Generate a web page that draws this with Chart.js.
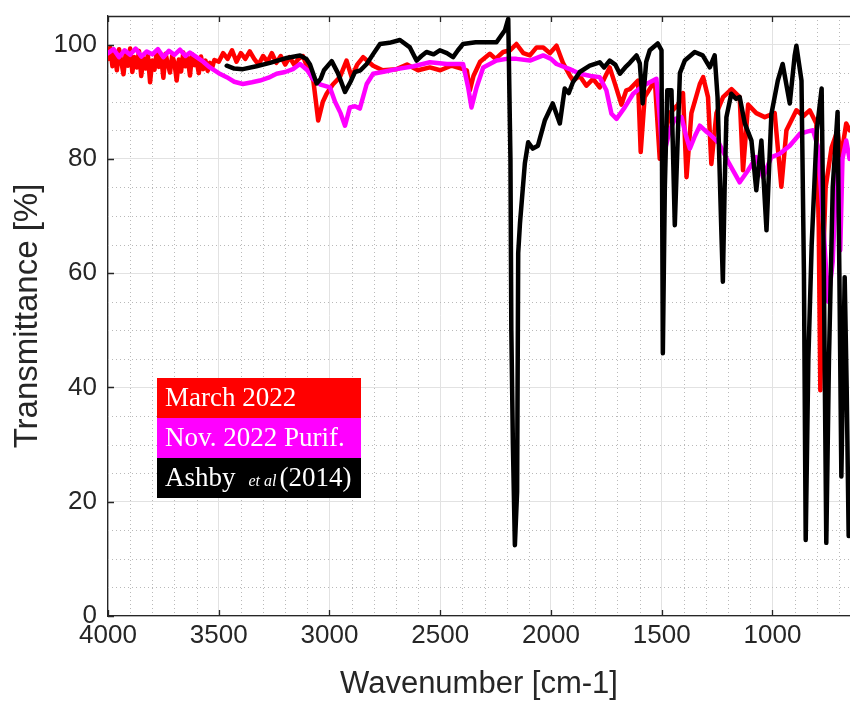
<!DOCTYPE html>
<html>
<head>
<meta charset="utf-8">
<script src="https://cdn.jsdelivr.net/npm/chart.js@4.4.1/dist/chart.umd.min.js"></script>
<style>
  html, body { margin: 0; padding: 0; background: #fff; }
</style>
</head>
<body>
<canvas id="irChart" width="850" height="702"></canvas>
<script>
// Series data (wavenumber in cm-1, transmittance in %)
const seriesLabels = ['March 2022', 'Nov. 2022 Purif.', 'Ashby et al (2014)'];
const seriesColors = ['#ff0000', '#ff00ff', '#000000'];

const redWn = [4000, 3990, 3980, 3970, 3960, 3950, 3940, 3930, 3920, 3910, 3900, 3890, 3880, 3870, 3860, 3850, 3840, 3830, 3820, 3810,
  3800, 3790, 3780, 3770, 3760, 3750, 3740, 3730, 3720, 3710, 3700, 3690, 3680, 3670, 3660, 3650, 3640, 3630, 3620, 3610,
  3600, 3590, 3580, 3570, 3560, 3550, 3540, 3530, 3520, 3500, 3480, 3460, 3440, 3420, 3400, 3380,
  3360, 3340, 3320, 3300, 3280, 3260, 3240, 3220, 3200, 3180, 3160, 3140, 3120, 3100, 3073, 3051, 3030, 3013, 2985, 2953,
  2923, 2900, 2875, 2848, 2803, 2760, 2697, 2650, 2600, 2547, 2500, 2450, 2397, 2380, 2366, 2350, 2320, 2276, 2250, 2216,
  2185, 2156, 2125, 2095, 2065, 2035, 2005, 1975, 1945, 1915, 1900, 1870, 1840, 1810, 1780, 1760, 1735, 1710, 1682, 1660,
  1644, 1607, 1595, 1577, 1550, 1531, 1509, 1486, 1464, 1426, 1404, 1388, 1366, 1328, 1313, 1291, 1276, 1253, 1223, 1185,
  1148, 1133, 1110, 1073, 1035, 990, 960, 937, 892, 860, 832, 802, 791, 784, 773, 760, 733, 706, 692, 667, 652];
const redT = [97.5, 99.5, 96.2, 98.8, 95.5, 99.2, 97, 94.8, 98.5, 96.3, 99.3, 95.2, 97.8, 96, 98.9, 94.5, 97.6, 95.8, 98.2, 93.4,
  97.2, 95.6, 98.7, 96.1, 97.9, 94.2, 98.4, 96.6, 95.1, 98.1, 96.8, 93.7, 97.4, 95.3, 98.6, 96.2, 97.7, 94.6, 98.3, 96.4,
  97.1, 95, 97.9, 95.7, 97.2, 95.4, 96.8, 95.9, 97.3, 97, 98.5, 97.5, 99, 97, 98.5, 97.5,
  98.8, 97.5, 96.5, 98, 97, 98.5, 96.8, 98, 96.5, 97.8, 96.5, 97.5, 98, 96, 93.7, 86.7, 90, 91.4, 93, 94.3,
  97.2, 94.3, 96.5, 97.8, 96.3, 95.5, 95.7, 96.5, 95.5, 96, 95.5, 96.3, 95.7, 95.5, 92, 94.5, 97, 98.4, 97.5, 98.7,
  99, 100.1, 98.5, 98.1, 99.5, 99.5, 98.5, 99.8, 96.7, 94.6, 93.7, 94.5, 92.8, 94, 92.5, 94, 96, 93, 89.5, 92,
  92.2, 93.7, 81.2, 90.8, 92.5, 93.7, 80, 84, 88, 89.5, 91.5, 76.8, 88, 93.1, 94.3, 90.8, 79.1, 88, 90.8, 92.2,
  90.8, 78, 89.5, 88, 87.3, 88, 75.1, 85, 88.5, 87.5, 88.5, 86.2, 68, 39.5, 60, 75, 82, 85, 80, 86.2, 85];

const magentaWn = [4000, 3975, 3950, 3925, 3900, 3875, 3850, 3825, 3800, 3775, 3750, 3725, 3700, 3675, 3650, 3630, 3600, 3570, 3540, 3500,
  3464, 3430, 3391, 3350, 3314, 3275, 3239, 3200, 3165, 3133, 3100, 3075, 3040, 2998, 2975, 2950, 2930, 2908, 2885, 2863,
  2832, 2803, 2750, 2697, 2620, 2547, 2470, 2397, 2374, 2359, 2336, 2306, 2246, 2200, 2156, 2095, 2035, 2000, 1975, 1915,
  1870, 1820, 1780, 1750, 1727, 1704, 1667, 1629, 1600, 1569, 1524, 1509, 1495, 1464, 1440, 1411, 1390, 1373, 1350, 1328,
  1300, 1286, 1241, 1196, 1148, 1110, 1073, 1043, 1005, 967, 922, 876, 840, 817, 794, 773, 749, 728, 711, 700,
  694, 684, 667, 652];
const magentaT = [98.5, 99.2, 97.8, 99, 98.2, 99.3, 97.9, 98.8, 98.3, 99.2, 97.8, 98.9, 98.2, 99.1, 98, 98.6, 97.8, 97, 96, 95,
  94.3, 93.5, 93.1, 93.4, 93.7, 94.2, 94.9, 95.2, 95.7, 96.6, 95.5, 94, 93, 92.5, 90, 88, 85.8, 89, 89.2, 88.8,
  93.1, 94.9, 95.3, 95.7, 96.2, 96.9, 96.6, 96.6, 92.5, 89, 92.5, 96, 97.2, 97.5, 97.5, 97.2, 98.1, 97.5, 96.6, 95.7,
  94.9, 94.5, 94.3, 92, 87.9, 87, 89, 91.4, 92.3, 93.1, 94, 87.3, 80, 85, 87, 87.3, 84, 81.8, 84, 85.8,
  84.8, 84.4, 82.7, 79.2, 75.9, 78, 80.3, 76.8, 80.3, 80.9, 82.3, 84.4, 84.8, 85, 82, 70, 55, 62, 78, 80,
  64, 80, 83.2, 80];

const blackWn = [3464, 3430, 3391, 3330, 3269, 3200, 3133, 3105, 3088, 3058, 3040, 3025, 2990, 2962, 2930, 2905, 2885, 2860, 2832, 2800,
  2772, 2730, 2682, 2637, 2607, 2585, 2562, 2530, 2502, 2470, 2442, 2420, 2397, 2340, 2291, 2246, 2208, 2193, 2183, 2179,
  2172, 2163, 2153, 2148, 2140, 2118, 2103, 2082, 2059, 2028, 1992, 1960, 1938, 1920, 1901, 1870, 1825, 1780, 1760, 1735,
  1710, 1689, 1665, 1644, 1614, 1599, 1586, 1570, 1554, 1518, 1501, 1495, 1486, 1475, 1456, 1441, 1418, 1396, 1351, 1315,
  1283, 1261, 1248, 1231, 1224, 1216, 1208, 1186, 1165, 1148, 1125, 1095, 1073, 1050, 1027, 1005, 976, 954, 922, 900,
  892, 869, 858, 850, 838, 823, 800, 778, 768, 757, 745, 728, 706, 698, 689, 674, 665, 656];
const blackT = [96.3, 95.8, 95.7, 96.2, 96.8, 97.6, 98.1, 97.5, 96.5, 93.2, 94, 95.5, 97.1, 95, 91.7, 93.5, 95.2, 95.5, 96.6, 98.5,
  100.1, 100.3, 100.8, 99.5, 97.2, 98, 98.7, 98.3, 99, 98.5, 97.8, 99, 100.1, 100.4, 100.4, 100.4, 102.5, 104.5, 80, 50,
  30, 12.4, 21.7, 63.5, 68.7, 79.2, 82.9, 81.8, 82.3, 86.7, 89.7, 86.2, 92.3, 91.5, 93.4, 95.2, 96.3, 96.9, 96, 97.2,
  96.5, 94.9, 96, 96.8, 98.1, 96.7, 89.7, 97, 99, 100.2, 99, 46, 75, 92, 92, 68.4, 95, 97.2, 98.7, 98.1,
  96, 98.1, 90.8, 67.5, 58.5, 75, 87.3, 91.4, 90.5, 90.8, 86.2, 83.2, 74.5, 83.2, 67.5, 87.8, 93.7, 96.6, 89.7, 98,
  99.8, 93.7, 60, 13.3, 45, 65, 85, 92.3, 60, 12.8, 45, 75, 88.2, 60, 24.4, 59.3, 40, 14];

const xTickValues = [4000, 3500, 3000, 2500, 2000, 1500, 1000];
const yTickValues = [0, 20, 40, 60, 80, 100];

const toPoints = (wn, t) => wn.map((w, i) => ({ x: w, y: t[i] }));

const axisColor = '#262626';
const sans = "'Liberation Sans', Arial, sans-serif";
const tickFont = { family: sans, size: 26 };

// dotted minor grid, like MATLAB's minor grid
const minorGrid = {
  id: 'minorGrid',
  beforeDatasetsDraw(chart) {
    const { ctx, chartArea: a, scales: { x, y } } = chart;
    ctx.save();
    ctx.strokeStyle = '#b9b9b9';
    ctx.lineWidth = 1;
    ctx.setLineDash([1, 3]);
    ctx.beginPath();
    for (let v = 700; v < 4000; v += 100) {
      if (v % 500 === 0) continue;
      const px = Math.round(x.getPixelForValue(v)) + 0.5;
      ctx.moveTo(px, a.top); ctx.lineTo(px, a.bottom);
    }
    for (let v = 5; v < 105; v += 5) {
      if (v % 20 === 0) continue;
      const py = Math.round(y.getPixelForValue(v)) + 0.5;
      ctx.moveTo(a.left, py); ctx.lineTo(a.right, py);
    }
    ctx.stroke();
    ctx.restore();
  }
};

// box top line, inward tick marks and the coloured legend block
const frameAndLegend = {
  id: 'frameAndLegend',
  afterDraw(chart) {
    const { ctx, chartArea: a, scales: { x, y } } = chart;
    ctx.save();
    ctx.strokeStyle = axisColor;
    ctx.lineWidth = 1.3;
    ctx.beginPath();
    ctx.moveTo(a.left, a.top + 0.5); ctx.lineTo(a.right, a.top + 0.5);
    xTickValues.forEach(v => {
      const px = Math.round(x.getPixelForValue(v)) + 0.5;
      ctx.moveTo(px, a.bottom); ctx.lineTo(px, a.bottom - 6);
      ctx.moveTo(px, a.top); ctx.lineTo(px, a.top + 6);
    });
    yTickValues.forEach(v => {
      const py = Math.round(y.getPixelForValue(v)) + 0.5;
      ctx.moveTo(a.left, py); ctx.lineTo(a.left + 6, py);
    });
    ctx.stroke();

    // legend
    const lx = a.left + 49, ly = 378, lw = 204, rowH = 40;
    const serif = "'Liberation Serif', 'Times New Roman', serif";
    seriesColors.forEach((c, i) => {
      ctx.fillStyle = c;
      ctx.fillRect(lx, ly + i * rowH, lw, rowH);
    });
    ctx.fillStyle = '#fff';
    ctx.textBaseline = 'middle';
    ctx.textAlign = 'left';
    ctx.font = '27px ' + serif;
    ctx.fillText(seriesLabels[0], lx + 8, ly + rowH / 2 + 1);
    ctx.fillText(seriesLabels[1], lx + 8, ly + rowH * 1.5 + 1);
    const yr = ly + rowH * 2.5 + 1;
    ctx.fillText('Ashby', lx + 8, yr);
    let cx = lx + 8 + ctx.measureText('Ashby').width + 13;
    ctx.font = 'italic 16px ' + serif;
    ctx.fillText('et al', cx, yr + 3);
    cx += ctx.measureText('et al').width + 3;
    ctx.font = '27px ' + serif;
    ctx.fillText('(2014)', cx, yr);
    ctx.restore();
  }
};

new Chart(document.getElementById('irChart'), {
  type: 'line',
  data: {
    datasets: [
      { label: seriesLabels[0], data: toPoints(redWn, redT), borderColor: seriesColors[0], order: 2 },
      { label: seriesLabels[1], data: toPoints(magentaWn, magentaT), borderColor: seriesColors[1], order: 1 },
      { label: seriesLabels[2], data: toPoints(blackWn, blackT), borderColor: seriesColors[2], order: 0 }
    ]
  },
  options: {
    responsive: false,
    animation: false,
    devicePixelRatio: 1,
    elements: {
      point: { radius: 0 },
      line: { borderWidth: 4.5, tension: 0, borderJoinStyle: 'round', borderCapStyle: 'round', fill: false }
    },
    layout: { padding: { top: 16, right: 0, bottom: 0, left: 0 } },
    plugins: { legend: { display: false }, tooltip: { enabled: false } },
    scales: {
      x: {
        type: 'linear',
        reverse: true,
        min: 650,
        max: 4000,
        afterBuildTicks: s => { s.ticks = xTickValues.map(v => ({ value: v })); },
        afterFit: s => { s.height = 86; s.paddingLeft = 0; s.paddingRight = 0; },
        grid: { color: '#e2e2e2', drawTicks: false },
        border: { color: axisColor, width: 1.3 },
        ticks: { font: tickFont, color: axisColor, padding: 4, maxRotation: 0, callback: v => String(v) },
        title: { display: true, text: 'Wavenumber [cm-1]', font: { family: sans, size: 31, lineHeight: 1 }, color: axisColor, padding: { top: 0, bottom: 2 } }
      },
      y: {
        min: 0,
        max: 105,
        afterBuildTicks: s => { s.ticks = yTickValues.map(v => ({ value: v })); },
        afterFit: s => { s.width = 108; s.paddingTop = 0; s.paddingBottom = 0; },
        grid: { color: '#e2e2e2', drawTicks: false },
        border: { color: axisColor, width: 1.3 },
        ticks: { font: tickFont, color: axisColor, padding: 11, callback: v => String(v) },
        title: { display: true, text: 'Transmittance [%]', font: { family: sans, size: 33, lineHeight: 1 }, color: axisColor, padding: { top: 11, bottom: 0 } }
      }
    }
  },
  plugins: [minorGrid, frameAndLegend]
});
</script>
</body>
</html>
